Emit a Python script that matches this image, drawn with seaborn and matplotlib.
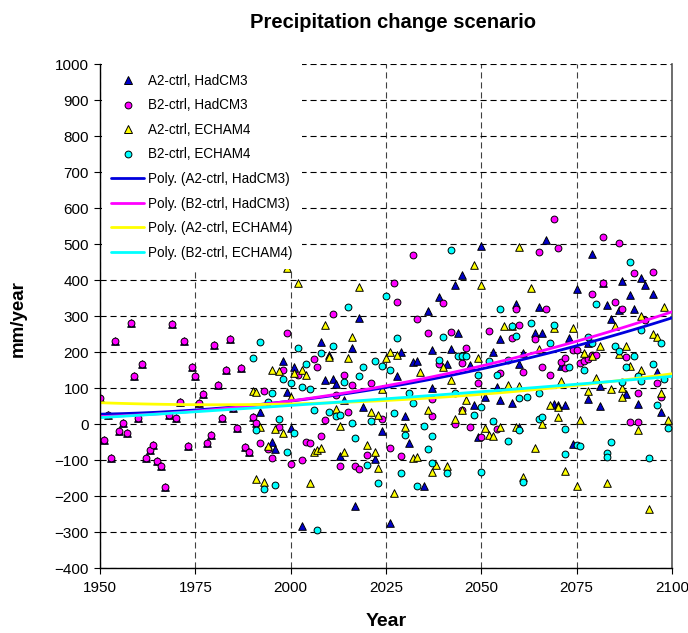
import numpy as np
import matplotlib
matplotlib.use("Agg")
import matplotlib.pyplot as plt
from matplotlib.lines import Line2D
import seaborn as sns

# ---------------- data ----------------
# control period (identical for both HadCM3 scenarios)
ctrl_years = list(range(1950, 1992))
ctrl_vals = [71, -44, 25, -95, 231, -19, 3, -26, 281, 133,
             17, 166, -95, -72, -57, -104, -116, -174, 25, 278,
             18, 60, 231, -61, 159, 134, 57, 84, -52, -31,
             220, 109, 18, 150, 235, 44, -10, 156, -65, -77,
             19, 2]

a2_had_years = [1992, 1995, 1996, 1998, 1999, 2000, 2001, 2003, 2008, 2009,
                2010, 2011, 2012, 2013, 2014, 2016, 2017, 2018, 2019, 2022,
                2024, 2026, 2028, 2029, 2030, 2031, 2032, 2033, 2035, 2036,
                2037, 2037, 2039, 2041, 2042, 2043, 2044, 2045, 2047, 2048,
                2049, 2050, 2051, 2053, 2054, 2055, 2055, 2058, 2059, 2060,
                2060, 2061, 2064, 2065, 2066, 2067, 2069, 2070, 2071, 2072,
                2073, 2074, 2075, 2078, 2078, 2079, 2081, 2081, 2082, 2083,
                2084, 2086, 2087, 2088, 2089, 2090, 2091, 2092, 2093, 2095,
                2096, 2097]
a2_had_vals = [34, -50, -70, 175, 90, -12, 159, -283, 229, 122,
               192, 125, 111, -89, 67, 212, -228, 294, 46, -98,
               -19, -274, 133, 199, 22, -54, 171, 175, -171, 314,
               206, 101, 352, 168, 207, 386, 254, 414, 164, 53,
               -37, 494, 76, 201, 104, 235, 67, 59, 333, -8,
               166, 196, 252, 326, 252, 511, 56, 53, 162, 53,
               240, -55, 374, 225, 69, 472, 106, 51, 392, 331,
               292, 317, 398, 82, 358, 319, 56, 405, 386, 361,
               145, 34]

b2_had_years = [1992, 1993, 1994, 1995, 1997, 1998, 1999, 2000, 2002, 2003,
                2004, 2005, 2006, 2007, 2008, 2009, 2011, 2012, 2013, 2014,
                2015, 2016, 2017, 2018, 2020, 2021, 2024, 2026, 2027, 2028,
                2029, 2032, 2033, 2036, 2037, 2037, 2039, 2040, 2042, 2043,
                2045, 2045, 2046, 2047, 2049, 2050, 2052, 2054, 2055, 2058,
                2059, 2060, 2061, 2064, 2065, 2066, 2067, 2068, 2069, 2070,
                2071, 2072, 2072, 2074, 2075, 2076, 2077, 2078, 2079, 2079,
                2080, 2082, 2082, 2085, 2086, 2087, 2088, 2089, 2090, 2091,
                2091, 2093, 2095, 2096, 2097]
b2_had_vals = [-54, 93, -69, -95, -7, 149, 252, -112, 136, -100,
               -49, -54, 180, 159, -32, 11, 305, 81, -116, 136,
               32, 108, -118, -126, -86, 115, 14, -68, 391, 340,
               -88, 469, 291, 252, 22, 69, 166, 335, 256, 0,
               170, 38, 212, -7, 115, -37, 258, -15, 143, 238,
               319, 275, 145, 235, 479, 159, 319, 136, 569, 488,
               171, 182, 155, 206, 206, 170, 175, 180, 360, 192,
               192, 519, 392, 340, 502, 319, 187, 5, 420, 5,
               87, 289, 423, 113, 76]

a2_ech_years = [1990, 1991, 1991, 1992, 1993, 1994, 1995, 1996, 1997, 1998,
                1999, 2000, 2001, 2002, 2003, 2004, 2005, 2006, 2007, 2008,
                2009, 2010, 2012, 2013, 2014, 2015, 2016, 2018, 2020, 2021,
                2022, 2023, 2023, 2024, 2025, 2026, 2027, 2028, 2030, 2032,
                2033, 2034, 2036, 2037, 2038, 2040, 2041, 2042, 2043, 2045,
                2046, 2048, 2049, 2050, 2051, 2052, 2053, 2055, 2056, 2057,
                2058, 2059, 2060, 2060, 2061, 2063, 2064, 2065, 2066, 2068,
                2069, 2070, 2070, 2071, 2072, 2074, 2075, 2076, 2077, 2078,
                2079, 2080, 2081, 2083, 2084, 2085, 2086, 2087, 2087, 2088,
                2089, 2091, 2092, 2092, 2094, 2095, 2096, 2097, 2098, 2099]
a2_ech_vals = [93, 90, -152, -7, -160, -60, 150, -15, 147, -25,
               432, 76, 141, 391, 150, 136, -163, -79, -72, -68,
               275, 187, 41, -5, -79, 182, 243, 380, -57, 32,
               -79, 25, -123, 96, 184, 201, -191, 192, -9, -95,
               -93, 144, 40, -132, -114, 159, -118, 122, 14, 38,
               67, 442, 184, 386, -12, -30, -32, -7, 272, 108,
               272, -8, 493, 106, -146, 377, -68, 207, 0, 53,
               266, 20, 48, 119, -130, 268, -172, 11, 198, 93,
               189, 127, 218, -163, 96, 272, 194, 101, 76, 218,
               162, -17, 150, 300, -237, 249, 243, 85, 324, 11]

b2_ech_years = [1990, 1991, 1992, 1993, 1994, 1995, 1996, 1997, 1998, 1999,
                2000, 2001, 2002, 2003, 2004, 2005, 2006, 2007, 2008, 2010,
                2011, 2012, 2013, 2014, 2015, 2016, 2017, 2018, 2019, 2020,
                2021, 2022, 2023, 2024, 2025, 2026, 2027, 2028, 2029, 2030,
                2031, 2032, 2033, 2035, 2036, 2037, 2037, 2039, 2040, 2041,
                2042, 2043, 2044, 2045, 2046, 2048, 2049, 2050, 2050, 2052,
                2053, 2054, 2055, 2057, 2057, 2058, 2059, 2060, 2060, 2061,
                2062, 2063, 2065, 2065, 2066, 2068, 2069, 2072, 2072, 2073,
                2075, 2076, 2077, 2078, 2079, 2080, 2083, 2083, 2084, 2085,
                2086, 2087, 2088, 2089, 2090, 2091, 2092, 2092, 2094, 2095,
                2096, 2097, 2098, 2099]
b2_ech_vals = [182, -17, 229, -181, 62, 87, -169, 13, 124, -79,
               115, -26, 212, 104, 168, 96, 39, -294, 196, 32,
               218, 22, 25, 118, 326, 4, -40, 133, 159, -115,
               9, 175, -165, 162, 356, 150, 30, 240, -137, -31,
               85, 57, -172, -5, -70, -33, -109, 178, 243, -137,
               483, 85, 189, 189, 189, 25, 136, 46, -132, 175,
               9, 136, 319, 178, -46, 272, 244, 71, -17, -160,
               76, 280, 87, 14, 20, 226, 275, -15, -83, 157,
               -58, -60, 150, 243, 225, 332, -80, -92, -49, 218,
               204, 116, 157, 451, 190, 134, 120, 261, -94, 168,
               53, 224, 124, -12]

labels = ["A2-ctrl, HadCM3", "B2-ctrl, HadCM3", "A2-ctrl, ECHAM4", "B2-ctrl, ECHAM4"]
x_ticks = list(range(1950, 2101, 25))
y_ticks = list(range(-400, 1001, 100))

series = [
    (ctrl_years + a2_had_years, ctrl_vals + a2_had_vals, "^", "#0000CC", "#0000DD", 30),
    (ctrl_years + b2_had_years, ctrl_vals + b2_had_vals, "o", "#FF00FF", "#FF00FF", 24),
    (a2_ech_years, a2_ech_vals, "^", "#FFFF00", "#FFFF00", 30),
    (b2_ech_years, b2_ech_vals, "o", "#00FFFF", "#00FFFF", 24),
]

# ---------------- figure ----------------
sns.set_style("white")
plt.rcParams["font.family"] = ["Liberation Sans", "DejaVu Sans"]
plt.rcParams["text.color"] = "black"
plt.rcParams["axes.labelcolor"] = "black"
plt.rcParams["xtick.color"] = "black"
plt.rcParams["ytick.color"] = "black"

fig = plt.figure(figsize=(6.88, 6.33), dpi=100)
ax = fig.add_axes([100 / 688, 1 - 568 / 633, 572 / 688, 504 / 633])
ax.set_xlim(1950, 2100)
ax.set_ylim(-400, 1000)

point_handles = []
for (yrs, vals, mk, fc, lc, size), lab in zip(series, labels):
    sns.scatterplot(x=yrs, y=vals, marker=mk, s=size, color=fc,
                    edgecolor="black", linewidth=0.7, ax=ax,
                    zorder=3, legend=False)
    point_handles.append(Line2D([], [], linestyle="none", marker=mk,
                                markersize=np.sqrt(size), markerfacecolor=fc,
                                markeredgecolor="black", markeredgewidth=0.7))

# second-order polynomial trend for each series
line_handles = []
for (yrs, vals, mk, fc, lc, size), lab in zip(series, labels):
    sns.regplot(x=np.array(yrs, float), y=np.array(vals, float), order=2,
                scatter=False, ci=None, truncate=False, ax=ax,
                line_kws=dict(color=lc, lw=2, zorder=4))
    line_handles.append(Line2D([], [], color=lc, lw=2))

ax.set_xlim(1950, 2100)
ax.set_ylim(-400, 1000)
ax.set_xticks(x_ticks)
ax.set_yticks(y_ticks)
ax.set_xlabel("")
ax.set_ylabel("")

ax.grid(True, axis="y", color="black", linestyle=(0, (5.5, 3.5)), linewidth=0.8)
ax.grid(True, axis="x", color="#404040", linestyle=(0, (5.5, 3.5)), linewidth=0.8)
ax.set_axisbelow(True)

for side in ["left", "bottom"]:
    ax.spines[side].set_color("black")
    ax.spines[side].set_linewidth(1.0)
    ax.spines[side].set_zorder(8)
ax.spines["top"].set_visible(False)
ax.spines["right"].set_color("#555555")
ax.spines["right"].set_linewidth(1.2)

ax.tick_params(axis="both", which="major", direction="out", length=4, width=0.8,
               labelsize=11, colors="black", bottom=True, left=True, pad=4)
ax.tick_params(axis="x", pad=5)

all_handles = point_handles + line_handles
all_labels = labels + [f"Poly. ({lab})" for lab in labels]
leg = ax.legend(all_handles, all_labels, loc="upper left", bbox_to_anchor=(0.003, 1),
                borderaxespad=0, borderpad=0.72, fontsize=9.75,
                labelspacing=0.78, handlelength=2.4, handletextpad=0.3,
                frameon=True, fancybox=False, framealpha=1,
                facecolor="white", edgecolor="none")
leg.set_zorder(6)

fig.text(393 / 688, 1 - 22 / 633, "Precipitation change scenario",
         ha="center", va="center", fontsize=14.5, fontweight="bold")
fig.text(18 / 688, 1 - 319 / 633, "mm/year", rotation=90,
         ha="center", va="center", fontsize=13.5, fontweight="bold")
fig.text(386 / 688, 1 - 622 / 633, "Year",
         ha="center", va="center", fontsize=14, fontweight="bold")

fig.savefig("out.png", dpi=100)
